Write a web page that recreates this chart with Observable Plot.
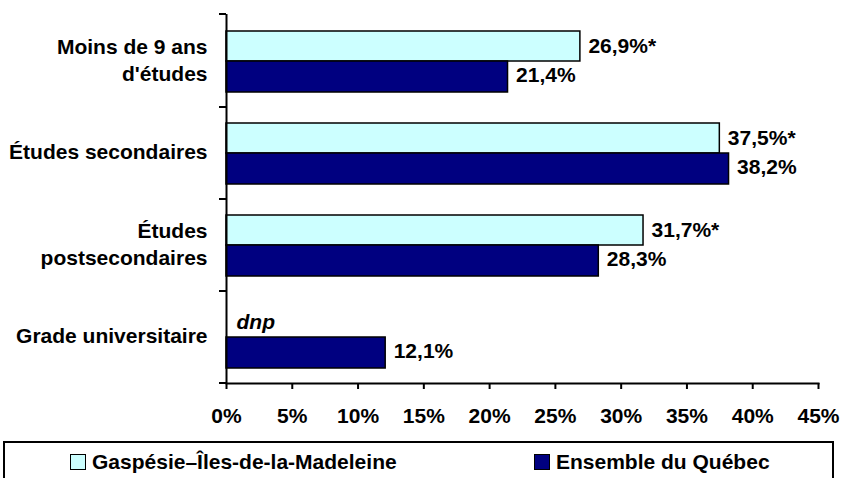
<!DOCTYPE html>
<html><head><meta charset="utf-8">
<script src="https://cdn.jsdelivr.net/npm/d3@7"></script>
<script src="https://cdn.jsdelivr.net/npm/@observablehq/plot@0.6"></script>
<style>
body{margin:0;background:#fff;font-family:"Liberation Sans",Arial,sans-serif;}
#wrap{position:relative;width:841px;height:478px;overflow:hidden;background:#fff;}
#legend{position:absolute;left:3px;top:441px;width:831px;height:50px;border:2px solid #000;box-sizing:border-box;}
.item{position:absolute;top:8px;display:flex;align-items:center;font-weight:bold;font-size:21px;color:#000;line-height:21px;}
.sw{width:16px;height:16px;border:1.5px solid #000;box-sizing:border-box;margin-right:6px;}
.lbl{white-space:nowrap;}
</style></head><body><div id="wrap"><div id="chart"></div><div id="legend"></div></div>
<script>
const categories = ["Moins de 9 ans\nd'études", "Études secondaires", "Études\npostsecondaires", "Grade universitaire"];
const seriesNames = ["Gaspésie–Îles-de-la-Madeleine", "Ensemble du Québec"];
const gaspesieValues = [26.9, 37.5, 31.7, null];
const quebecValues = [21.4, 38.2, 28.3, 12.1];
const gaspesieLabels = ["26,9%*", "37,5%*", "31,7%*", "dnp"];
const quebecLabels = ["21,4%", "38,2%", "28,3%", "12,1%"];
const xTicks = [0, 5, 10, 15, 20, 25, 30, 35, 40, 45];
const colors = ["#CCFFFF", "#000080"];
const legendLeft = [65, 529];

const gasp = categories.map((c, i) => ({cat: c, value: gaspesieValues[i], label: gaspesieLabels[i]}));
const queb = categories.map((c, i) => ({cat: c, value: quebecValues[i], label: quebecLabels[i]}));
const gaspHas = gasp.filter(d => d.value != null);
const gaspMissing = gasp.filter(d => d.value == null);

const boundaryTicks = (index, scales, values, dimensions) => {
  const g = d3.create("svg:g");
  const ys = [dimensions.marginTop, ...categories.slice(1).map(c => scales.y(c)), dimensions.height - dimensions.marginBottom];
  const x0 = dimensions.marginLeft;
  g.selectAll("line").data(ys).join("line")
    .attr("x1", x0 - 7).attr("x2", x0).attr("y1", d => d).attr("y2", d => d)
    .attr("stroke", "#000").attr("stroke-width", 2);
  return g.node();
};

const chart = Plot.plot({
  width: 841,
  height: 430,
  marginTop: 14,
  marginBottom: 47,
  marginLeft: 226,
  marginRight: 23,
  style: {fontFamily: "'Liberation Sans', Arial, sans-serif", fontSize: "21px", color: "#000", background: "#fff"},
  x: {domain: [0, 45], label: null},
  y: {domain: categories, padding: 0, label: null},
  marks: [
    Plot.barX(gaspHas, {x: "value", y: "cat", fill: colors[0], stroke: "#000", strokeWidth: 1.5, insetTop: 16, insetBottom: 46}),
    Plot.barX(queb, {x: "value", y: "cat", fill: colors[1], stroke: "#000", strokeWidth: 1.5, insetTop: 46, insetBottom: 15}),
    Plot.text(gaspHas, {x: "value", y: "cat", text: "label", textAnchor: "start", dx: 8, dy: -15, fontWeight: "bold", fontSize: 21, fill: "#000"}),
    Plot.text(gaspMissing, {x: () => 0, y: "cat", text: "label", textAnchor: "start", dx: 10, dy: -15, fontWeight: "bold", fontStyle: "italic", fontSize: 21, fill: "#000"}),
    Plot.text(queb, {x: "value", y: "cat", text: "label", textAnchor: "start", dx: 8, dy: 14, fontWeight: "bold", fontSize: 21, fill: "#000"}),
    Plot.ruleX([0], {stroke: "#000", strokeWidth: 2}),
    Plot.frame({anchor: "bottom", stroke: "#000", strokeWidth: 2}),
    Plot.axisX({ticks: xTicks, tickSize: 6, tickPadding: 19, tickFormat: d => d + "%", fontWeight: "bold", fontSize: 21, stroke: "#000", strokeWidth: 2, fill: "#000"}),
    Plot.axisY({tickSize: 0, tickPadding: 19, lineHeight: 1.3, dy: -3, fontWeight: "bold", fontSize: 21, fill: "#000"}),
    boundaryTicks
  ]
});
document.getElementById("chart").append(chart);

const legend = d3.select("#legend");
seriesNames.forEach((name, i) => {
  const item = legend.append("div").attr("class", "item").style("left", legendLeft[i] + "px");
  item.append("div").attr("class", "sw").style("background", colors[i]);
  item.append("span").attr("class", "lbl").text(name);
});
</script></body></html>
